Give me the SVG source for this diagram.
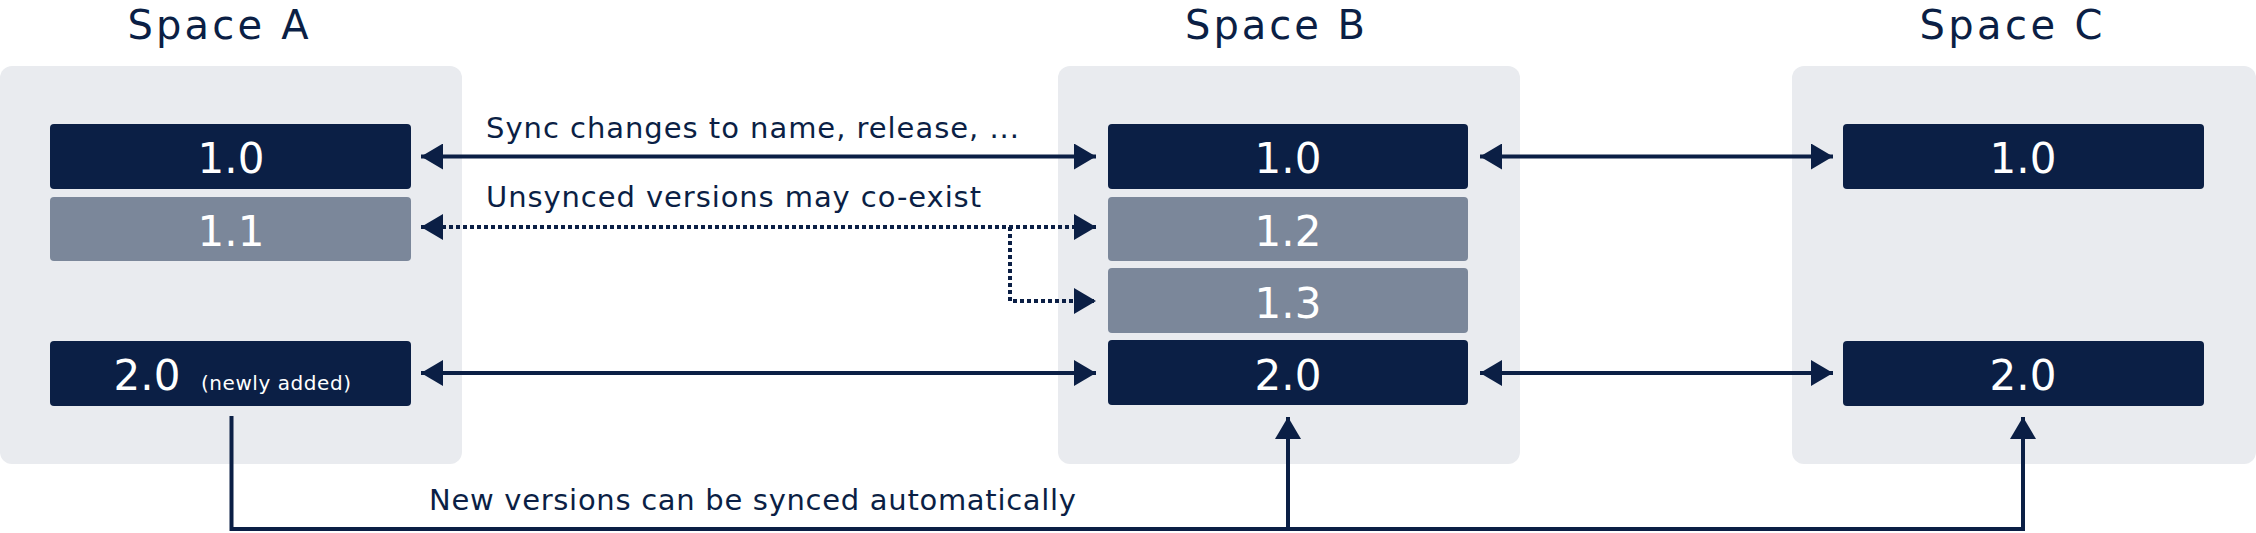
<svg xmlns="http://www.w3.org/2000/svg" width="2256" height="533" viewBox="0 0 2256 533">
<style>
.panel{fill:#e9ebef}
.dark{fill:#0b1f45}
.gray{fill:#7b879a}
.t{font-family:"DejaVu Sans",Verdana,sans-serif;fill:#0b1f45}
.title{font-size:40px;text-anchor:middle}
.v{font-family:"DejaVu Sans",Verdana,sans-serif;fill:#fff;font-size:42px;text-anchor:middle}
.lbl{font-size:29px}
.c{stroke:#0b1f45;stroke-width:4;fill:none}
.dot{stroke-dasharray:4 3}
</style>
<defs>
<marker id="ah" viewBox="0 0 10 10" refX="10" refY="5" markerWidth="6" markerHeight="6" markerUnits="userSpaceOnUse" orient="auto-start-reverse" style="overflow:visible">
<path d="M0,0 L10,5 L0,10 z" fill="#0b1f45" transform="scale(1)"/>
</marker>
<marker id="a" viewBox="0 0 22 26" refX="22" refY="13" markerWidth="22" markerHeight="26" markerUnits="userSpaceOnUse" orient="auto-start-reverse">
<path d="M0,0 L22,13 L0,26 z" fill="#0b1f45"/>
</marker>
</defs>
<g id="spaceA">
<rect class="panel" x="0" y="66" width="462" height="398" rx="12"/>
<text class="t title" x="218" y="39" textLength="181">Space A</text>
</g>
<g id="spaceB">
<rect class="panel" x="1058" y="66" width="462" height="398" rx="12"/>
<text class="t title" x="1275" y="39" textLength="180">Space B</text>
</g>
<g id="spaceC">
<rect class="panel" x="1792" y="66" width="464" height="398" rx="12"/>
<text class="t title" x="2011" y="39" textLength="183">Space C</text>
</g>
<g id="a10"><rect class="dark" x="50" y="124" width="361" height="65" rx="4"/><text class="v" x="231" y="173">1.0</text></g>
<g id="a11"><rect class="gray" x="50" y="197" width="361" height="64" rx="4"/><text class="v" x="231" y="246">1.1</text></g>
<g id="a20"><rect class="dark" x="50" y="341" width="361" height="65" rx="4"/><text class="v" x="147" y="390">2.0</text><text x="276" y="390" font-family="DejaVu Sans,Verdana,sans-serif" font-size="20" fill="#fff" text-anchor="middle" textLength="150">(newly added)</text></g>
<g id="b10"><rect class="dark" x="1108" y="124" width="360" height="65" rx="4"/><text class="v" x="1288" y="173">1.0</text></g>
<g id="b12"><rect class="gray" x="1108" y="197" width="360" height="64" rx="4"/><text class="v" x="1288" y="246">1.2</text></g>
<g id="b13"><rect class="gray" x="1108" y="268" width="360" height="65" rx="4"/><text class="v" x="1288" y="318">1.3</text></g>
<g id="b20"><rect class="dark" x="1108" y="340" width="360" height="65" rx="4"/><text class="v" x="1288" y="390">2.0</text></g>
<g id="c10"><rect class="dark" x="1843" y="124" width="361" height="65" rx="4"/><text class="v" x="2023" y="173">1.0</text></g>
<g id="c20"><rect class="dark" x="1843" y="341" width="361" height="65" rx="4"/><text class="v" x="2023" y="390">2.0</text></g>
<g id="connectors">
<line class="c" x1="421" y1="156.5" x2="1096" y2="156.5" marker-start="url(#a)" marker-end="url(#a)"/>
<line class="c dot" x1="421" y1="227" x2="1096" y2="227" marker-start="url(#a)" marker-end="url(#a)"/>
<polyline class="c dot" points="1010,227 1010,301 1096,301" marker-end="url(#a)"/>
<line class="c" x1="421" y1="373" x2="1096" y2="373" marker-start="url(#a)" marker-end="url(#a)"/>
<line class="c" x1="1480" y1="156.5" x2="1833" y2="156.5" marker-start="url(#a)" marker-end="url(#a)"/>
<line class="c" x1="1480" y1="373" x2="1833" y2="373" marker-start="url(#a)" marker-end="url(#a)"/>
<polyline class="c" points="231.5,416 231.5,529 2023,529 2023,417" marker-end="url(#a)"/>
<line class="c" x1="1288" y1="529" x2="1288" y2="417" marker-end="url(#a)"/>
<text class="t lbl" x="486" y="138" textLength="533">Sync changes to name, release, ...</text>
<text class="t lbl" x="486" y="207" textLength="495">Unsynced versions may co-exist</text>
<text class="t lbl" x="429" y="510" textLength="647">New versions can be synced automatically</text>
</g>
</svg>
